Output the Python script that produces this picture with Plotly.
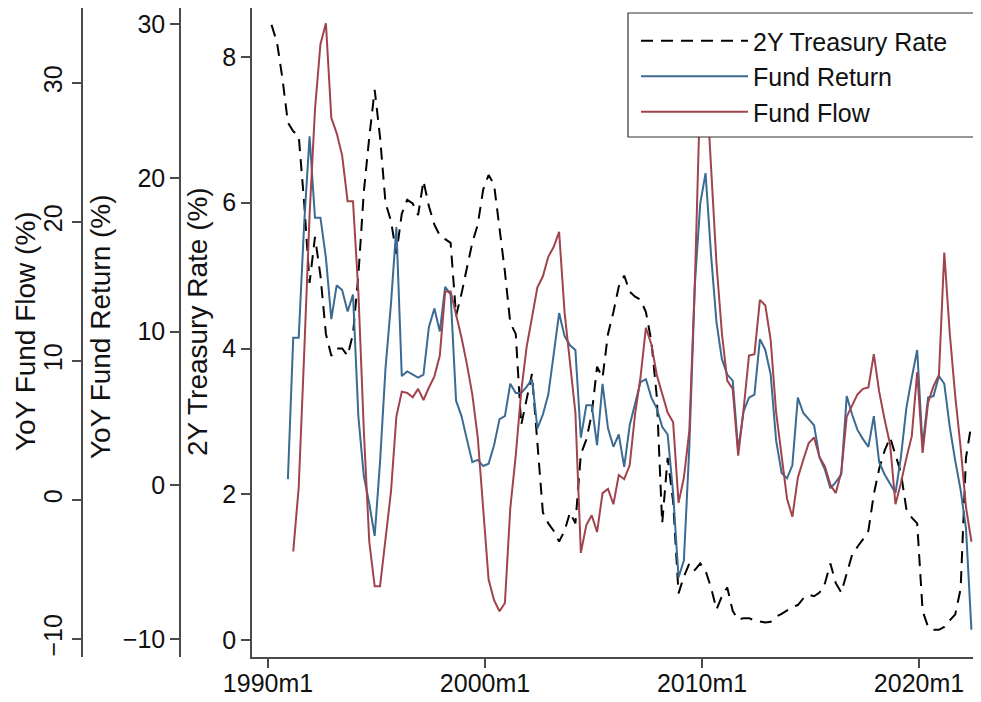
import pandas as pd
import plotly.graph_objects as go

# Quarter-end observations, 1990m3 .. 2022m6
dates = pd.date_range("1990-03-01", "2022-06-01", freq="3MS")

treasury_rate = [
    8.44, 8.2, 7.7, 7.1, 6.98, 6.92, 6.0, 4.9, 5.53, 5.0,
    4.2, 3.9, 4.0, 4.0, 3.9, 4.2, 5.0, 6.15, 6.9, 7.55,
    6.9, 6.0, 5.75, 5.3, 5.85, 6.04, 5.99, 5.83, 6.3, 5.95,
    5.7, 5.55, 5.5, 5.45, 4.45, 4.75, 5.1, 5.45, 5.7, 6.18,
    6.38, 6.25, 5.65, 5.05, 4.35, 4.2, 2.95, 3.3, 3.65, 2.7,
    1.75, 1.6, 1.5, 1.35, 1.5, 1.75, 1.6, 2.55, 2.75, 3.1,
    3.75, 3.6, 4.2, 4.5, 4.85, 5.0, 4.78, 4.71, 4.67, 4.5,
    4.1, 3.34, 1.6, 2.5, 1.9, 0.64, 0.87, 1.05, 0.96, 1.05,
    0.95, 0.72, 0.42, 0.6, 0.72, 0.4, 0.28, 0.3, 0.3, 0.27,
    0.25, 0.24, 0.25, 0.32, 0.36, 0.41, 0.45, 0.48, 0.57, 0.62,
    0.6, 0.65, 0.78, 1.05, 0.78, 0.65, 0.9, 1.17, 1.28, 1.38,
    1.5, 2.0, 2.35, 2.6, 2.78, 2.55, 2.3, 1.8, 1.68, 1.6,
    0.4, 0.18, 0.14, 0.14, 0.18, 0.27, 0.35, 0.7, 2.5, 2.97,
]

fund_return = [
    None, None, None, 0.4, 9.6, 9.6, 17.0, 22.7, 17.4, 17.4,
    14.8, 10.8, 13.0, 12.7, 11.3, 12.4, 4.5, 0.6, -1.2, -3.3,
    1.5, 7.6, 11.8, 16.8, 7.1, 7.4, 7.2, 7.0, 7.2, 10.3,
    11.5, 10.0, 12.9, 12.4, 5.5, 4.5, 3.0, 1.5, 1.65, 1.25,
    1.4, 2.6, 4.3, 4.5, 6.6, 6.0, 6.0, 6.4, 6.9, 3.7,
    4.6, 5.9, 8.5, 11.2, 9.7, 9.1, 8.8, 3.1, 5.2, 5.2,
    2.6, 6.6, 3.7, 2.5, 3.3, 1.2, 3.9, 5.4, 6.7, 6.9,
    5.7, 5.0, 3.8, 3.3, -0.5, -6.0, -4.9, 2.5, 13.0, 18.3,
    20.3, 15.0, 10.6, 8.2, 7.2, 6.8, 2.3, 4.8, 5.7, 5.9,
    9.5, 8.8, 7.2, 2.9, 0.8, 0.45, 1.3, 5.7, 4.7, 4.3,
    3.9, 1.8, 1.0, -0.2, 0.2, 0.7, 5.8, 4.6, 3.6, 3.0,
    2.5, 4.5, 1.5, 0.7, 0.1, -0.5, 1.8, 5.0, 7.0, 8.8,
    2.5, 5.7, 5.8, 7.1, 6.6, 3.8, 1.6, -0.3, -2.8, -9.4,
]

fund_flow = [
    None, None, None, None, -3.7, 0.9, 10.5, 20.5, 28.1, 32.8,
    34.3, 27.5, 26.4, 24.8, 21.5, 21.5, 15.0, 5.0, -3.0, -6.2,
    -6.2, -2.8, 0.6, 6.0, 7.8, 7.7, 7.4, 8.0, 7.2, 8.1,
    8.9, 10.4, 15.0, 15.0, 13.4, 11.7, 9.8, 7.6, 4.5, -0.3,
    -5.7, -7.2, -8.0, -7.4, -0.6, 3.2, 7.8, 11.0, 13.0, 15.3,
    16.1, 17.5, 18.2, 19.3, 13.5, 10.0, 6.3, -3.8, -1.8, -1.1,
    -2.3, 0.5, 0.8, -0.3, 1.8, 1.5, 2.5, 6.2, 8.8, 12.4,
    11.2, 9.0, 7.6, 6.3, 5.6, -0.2, 1.6, 5.0, 15.5, 29.5,
    31.0, 23.5, 17.0, 12.0, 8.6, 8.0, 3.2, 6.5, 10.4, 10.5,
    14.4, 14.0, 11.5, 6.3, 3.2, 0.1, -1.2, 1.6, 2.9, 4.1,
    4.5, 3.1, 2.4, 1.1, 0.5, 2.0, 6.0, 6.8, 7.6, 8.0,
    8.1, 10.5, 7.8, 5.8, 4.0, -0.3, 1.2, 3.0, 4.6, 9.2,
    3.4, 7.0, 8.2, 9.0, 17.8, 12.0, 7.5, 3.8, -0.5, -3.0,
]

x_tick_dates = ["1990-01-01", "2000-01-01", "2010-01-01", "2020-01-01"]
x_tick_labels = ["1990m1", "2000m1", "2010m1", "2020m1"]
treasury_ticks = [0, 2, 4, 6, 8]
return_ticks = [-10, 0, 10, 20, 30]
flow_ticks = [-10, 0, 10, 20, 30]

FONT = "Liberation Sans, Arial, Helvetica, sans-serif"
W, H = 981, 702
S = 8                      # page body offset of the plot div
ML, MR, MT, MB = 0, S, 0, H - (657 - S)
PW = W - ML - MR           # plotting width  (figure px)
PH = H - MT - MB           # plotting height (figure px)
AXC = "#4a4a4a"
BLUE = "#3b6a93"
RED = "#a0434c"


def px_x(sx):
    """screen x -> paper fraction"""
    return (sx - S - ML) / PW


def px_y(sy):
    """screen y -> paper fraction"""
    return (657 - sy) / PH


fig = go.Figure()
fig.add_trace(go.Scatter(
    x=dates, y=treasury_rate, name="2Y Treasury Rate", mode="lines",
    line=dict(color="black", width=2, dash="12px,8px"), yaxis="y"))
fig.add_trace(go.Scatter(
    x=dates, y=fund_return, name="Fund Return", mode="lines",
    line=dict(color=BLUE, width=2), yaxis="y2"))
fig.add_trace(go.Scatter(
    x=dates, y=fund_flow, name="Fund Flow", mode="lines",
    line=dict(color=RED, width=2), yaxis="y3"))

common = dict(showgrid=False, zeroline=False, showline=True, linecolor=AXC,
              linewidth=1.5, ticks="outside", ticklen=9, tickwidth=1.5,
              tickcolor=AXC, automargin=False,
              tickfont=dict(family=FONT, size=25, color="#111"))

fig.update_layout(
    width=W, height=H,
    margin=dict(l=ML, r=MR, t=MT, b=MB),
    paper_bgcolor="white", plot_bgcolor="white",
    font=dict(family=FONT, color="#111"),
    showlegend=True,
    legend=dict(x=px_x(636), y=px_y(18), xanchor="left", yanchor="top",
                borderwidth=0, bgcolor="white", itemwidth=107,
                font=dict(family=FONT, size=25, color="#111")),
    xaxis=dict(domain=[px_x(252), 1], type="date",
               range=["1989-04-06", "2022-11-09"],
               tickvals=x_tick_dates, ticktext=x_tick_labels,
               ticklabelstandoff=-6, **common),
    yaxis=dict(range=[-0.233, 8.672], tickvals=treasury_ticks, anchor="x",
               **common),
    yaxis2=dict(range=[-11.17, 31.04], tickvals=return_ticks, overlaying="y",
                anchor="free", position=px_x(180), side="left", **common),
    yaxis3=dict(range=[-11.29, 35.40], tickvals=flow_ticks, overlaying="y",
                anchor="free", position=px_x(82), side="left", tickangle=-90,
                **common),
)

# legend frame
fig.add_shape(type="rect", xref="paper", yref="paper",
              x0=px_x(628), x1=px_x(978), y0=px_y(137), y1=px_y(13),
              line=dict(color="#333", width=1.2), fillcolor="white",
              layer="above")

titles = [("YoY Fund Flow (%)", 26, 331), ("YoY Fund Return (%)", 100, 327),
          ("2Y Treasury Rate (%)", 198, 322)]
for text, sx, sy in titles:
    fig.add_annotation(text=text, x=px_x(sx), y=px_y(sy), xref="paper",
                       yref="paper", textangle=-90, showarrow=False,
                       xanchor="center", yanchor="middle",
                       font=dict(family=FONT, size=28, color="#111"))

fig.write_html("out.html")
